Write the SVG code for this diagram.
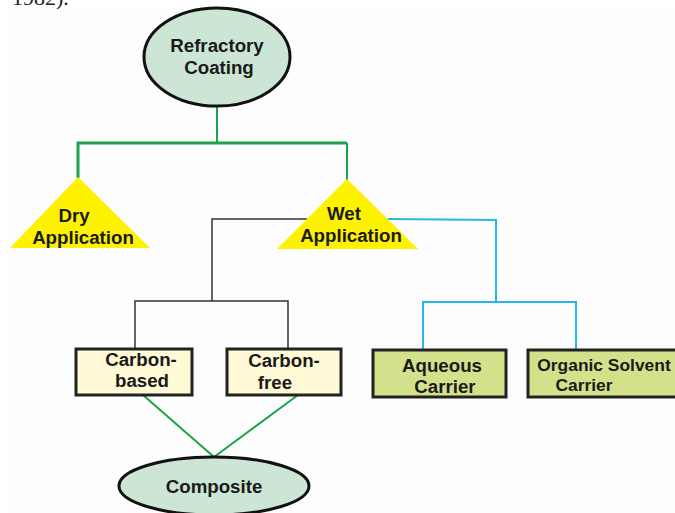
<svg xmlns="http://www.w3.org/2000/svg" width="675" height="513" viewBox="0 0 675 513">
<style>
.t{font-family:"Liberation Sans",Arial,sans-serif;font-weight:bold;font-size:18.7px;fill:#1a1a1a;text-anchor:middle}
.ell{fill:#cce5d4;stroke:#111;stroke-width:3}
.tri{fill:#fff200;stroke:none}
.boxy{fill:#fff9d6;stroke:#222;stroke-width:3}
.boxg{fill:#d3e18a;stroke:#222;stroke-width:3}
.cg{stroke:#1aa44a;stroke-width:2;fill:none}
.cgt{stroke:#1aa44a;stroke-width:3;fill:none}
.ck{stroke:#333;stroke-width:1.5;fill:none}
.cb{stroke:#29b6ea;stroke-width:2;fill:none}
</style>
<rect width="675" height="513" fill="#ffffff"/>
<rect x="10" y="8" width="665" height="505" fill="#fdfdfd"/>
<text x="12" y="5" font-family="Liberation Serif,serif" font-size="22" fill="#222">1982).</text>
<g id="connectors">
<line class="cg" x1="217" y1="107" x2="217" y2="143"/>
<polyline class="cgt" points="78,178 78,143 347,143"/>
<polyline class="cg" points="347,143 347,180"/>
<polyline class="ck" points="307,219 212,219 212,301"/>
<polyline class="ck" points="135,348 135,301 288,301 288,348"/>
<polyline class="cb" points="388,219 496,220 496,302"/>
<polyline class="cb" points="423,350 423,302 576,302 576,350"/>
<line class="cg" x1="143" y1="395" x2="214" y2="457"/>
<line class="cg" x1="298" y1="395" x2="214" y2="457"/>
</g>
<g id="refractory">
<ellipse class="ell" cx="217" cy="57" rx="73" ry="49"/>
<text class="t" x="217" y="52">Refractory</text>
<text class="t" x="219" y="74">Coating</text>
</g>
<g id="dry">
<polygon class="tri" points="78,177 150,248 10,248"/>
<text class="t" x="74" y="222">Dry</text>
<text class="t" x="83" y="244">Application</text>
</g>
<g id="wet">
<polygon class="tri" points="347,179 418,249 277,249"/>
<text class="t" x="344" y="220">Wet</text>
<text class="t" x="351" y="242">Application</text>
</g>
<g id="carbon-based">
<rect class="boxy" x="76" y="349" width="116" height="46"/>
<text class="t" x="141" y="366">Carbon-</text>
<text class="t" x="142" y="387">based</text>
</g>
<g id="carbon-free">
<rect class="boxy" x="227" y="349" width="114" height="46"/>
<text class="t" x="284" y="367">Carbon-</text>
<text class="t" x="275" y="389">free</text>
</g>
<g id="aqueous">
<rect class="boxg" x="373" y="350" width="133" height="47"/>
<text class="t" x="442" y="372">Aqueous</text>
<text class="t" x="445" y="393">Carrier</text>
</g>
<g id="organic">
<rect class="boxg" x="528" y="350" width="152" height="47"/>
<text class="t" x="604" y="371" style="font-size:17.4px">Organic Solvent</text>
<text class="t" x="584" y="391" style="font-size:17.4px">Carrier</text>
</g>
<g id="composite">
<ellipse class="ell" cx="214" cy="486" rx="95" ry="29"/>
<text class="t" x="214" y="493">Composite</text>
</g>
</svg>
